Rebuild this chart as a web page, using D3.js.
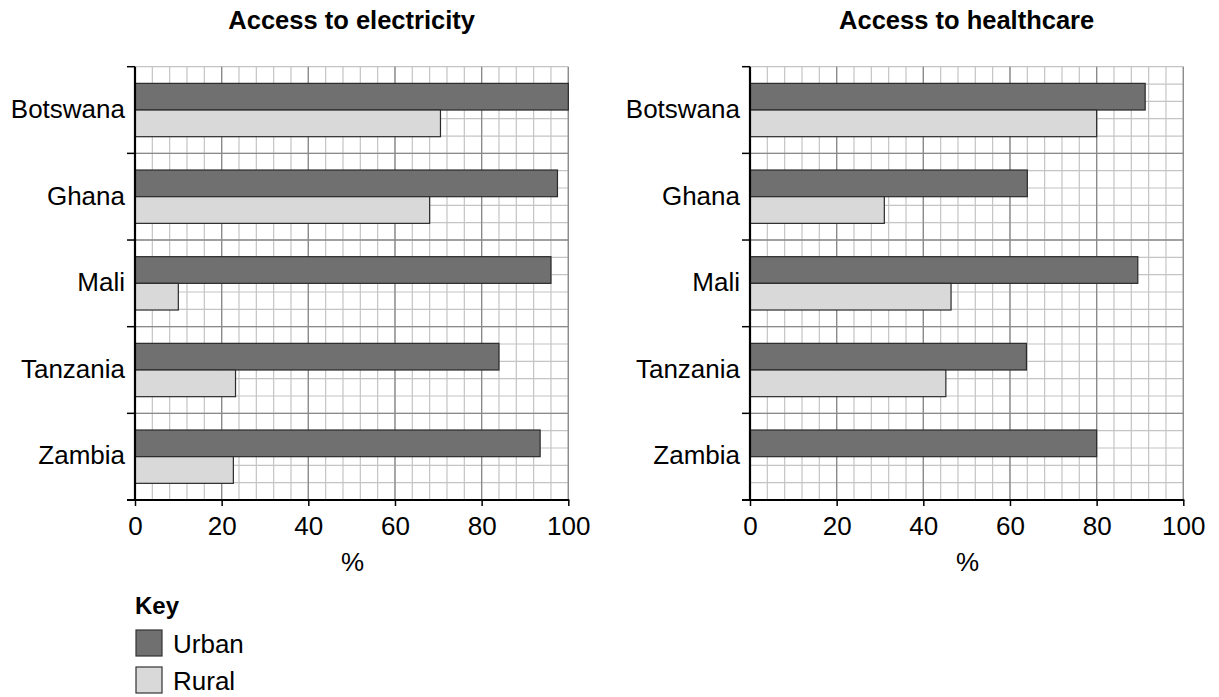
<!DOCTYPE html>
<html><head><meta charset="utf-8">
<script src="https://cdn.jsdelivr.net/npm/d3@7"></script>
<style>
html,body{margin:0;padding:0;background:#fff;}
svg text{font-family:"Liberation Sans",Arial,sans-serif;fill:#000;}
</style></head>
<body><svg id="c" width="1219" height="697"></svg>
<script>
const countries = ["Botswana","Ghana","Mali","Tanzania","Zambia"];
const seriesNames = ["Urban","Rural"];
const electricityUrban = [100, 97.5, 96, 84, 93.5];
const electricityRural = [70.5, 68, 10, 23.2, 22.7];
const healthUrban = [91.2, 64, 89.5, 63.8, 80];
const healthRural = [80, 31, 46.4, 45.2, null];
const xTicks = [0,20,40,60,80,100];
const titles = ["Access to electricity","Access to healthcare"];
const colors = {Urban:"#707070", Rural:"#d9d9d9"};

const svg = d3.select("#c");
const plotTop = 66.7, plotBottom = 500;
const FS = 26;

function panel(x0, x1, title, urban, rural){
  const g = svg.append("g");
  const x = d3.scaleLinear().domain([0,100]).range([x0,x1]);
  const y = d3.scaleBand().domain(countries).range([plotTop,plotBottom]);
  const ys = d3.scaleBand().domain(seriesNames).range([0,y.bandwidth()]).paddingOuter(0.625);
  const minorX = d3.range(0,101,4);
  const nRows = 25;
  const rowH = (plotBottom-plotTop)/nRows;
  g.selectAll(".mv").data(minorX).join("line")
    .attr("x1",d=>x(d)).attr("x2",d=>x(d)).attr("y1",plotTop).attr("y2",plotBottom)
    .attr("stroke","#c4c4c4").attr("stroke-width",1.2);
  g.selectAll(".mh").data(d3.range(0,nRows)).join("line")
    .attr("x1",x0).attr("x2",x1).attr("y1",d=>plotTop+d*rowH).attr("y2",d=>plotTop+d*rowH)
    .attr("stroke","#c4c4c4").attr("stroke-width",1.2);
  g.selectAll(".Mv").data(xTicks.slice(1)).join("line")
    .attr("x1",d=>x(d)).attr("x2",d=>x(d)).attr("y1",plotTop).attr("y2",plotBottom)
    .attr("stroke","#8a8a8a").attr("stroke-width",1.3);
  g.selectAll(".Mh").data(countries.slice(1)).join("line")
    .attr("x1",x0).attr("x2",x1).attr("y1",d=>y(d)).attr("y2",d=>y(d))
    .attr("stroke","#8a8a8a").attr("stroke-width",1.3);
  const data = [];
  countries.forEach((c,i)=>{
    data.push({c, s:"Urban", v:urban[i]});
    if(rural[i]!=null) data.push({c, s:"Rural", v:rural[i]});
  });
  g.selectAll(".bar").data(data).join("rect")
    .attr("x",x(0)).attr("y",d=>y(d.c)+ys(d.s))
    .attr("width",d=>x(d.v)-x(0)).attr("height",ys.bandwidth())
    .attr("fill",d=>colors[d.s]).attr("stroke","#2a2a2a").attr("stroke-width",1.2);
  const yAxis = d3.axisLeft(y).tickSize(0).tickPadding(10);
  const ya = g.append("g").attr("transform",`translate(${x0},0)`).call(yAxis);
  ya.select(".domain").remove();
  ya.selectAll("text").attr("font-size",FS).attr("font-family","Liberation Sans, Arial, sans-serif").attr("fill","#000").attr("dy","0.3em");
  g.selectAll(".bt").data(d3.range(0,6)).join("line")
    .attr("x1",x0-8).attr("x2",x0).attr("y1",d=>plotTop+d*y.step()).attr("y2",d=>plotTop+d*y.step())
    .attr("stroke","#000").attr("stroke-width",1.5);
  g.append("line").attr("x1",x0).attr("x2",x0).attr("y1",plotTop).attr("y2",plotBottom+1).attr("stroke","#000").attr("stroke-width",2.2);
  const xAxis = d3.axisBottom(x).tickValues(xTicks).tickSize(6).tickPadding(6);
  const xa = g.append("g").attr("transform",`translate(0,${plotBottom})`).call(xAxis);
  xa.select(".domain").remove();
  xa.selectAll(".tick line").attr("stroke","#000").attr("stroke-width",1.5);
  xa.selectAll("text").attr("font-size",FS).attr("font-family","Liberation Sans, Arial, sans-serif").attr("fill","#000")
    .attr("y",35).attr("dy",0);
  g.append("line").attr("x1",x0-8).attr("x2",x1+1).attr("y1",plotBottom).attr("y2",plotBottom).attr("stroke","#000").attr("stroke-width",2.2);
  g.append("text").attr("x",(x0+x1)/2+1).attr("y",571).attr("text-anchor","middle").attr("font-size",FS).text("%");
  g.append("text").attr("x",(x0+x1)/2).attr("y",29).attr("text-anchor","middle").attr("font-size",25.5).attr("font-weight","bold").text(title);
}
panel(135, 568.3, titles[0], electricityUrban, electricityRural);
panel(750, 1183.3, titles[1], healthUrban, healthRural);

const lg = svg.append("g");
lg.append("text").attr("x",135).attr("y",614).attr("font-size",24).attr("font-weight","bold").text("Key");
seriesNames.forEach((s,i)=>{
  lg.append("rect").attr("x",136).attr("y",630+i*37).attr("width",26).attr("height",26)
    .attr("fill",colors[s]).attr("stroke","#333").attr("stroke-width",1.2);
  lg.append("text").attr("x",173).attr("y",653+i*37).attr("font-size",FS).text(s);
});
</script></body></html>
